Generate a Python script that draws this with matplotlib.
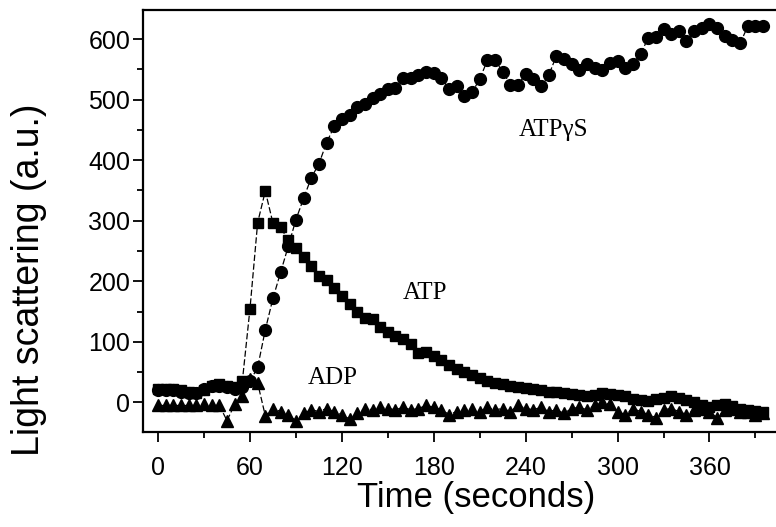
import matplotlib.pyplot as plt

# === Data (one sample every 5 s) ===
time_s = [0, 5, 10, 15, 20, 25, 30, 35, 40, 45, 50, 55, 60, 65, 70, 75, 80, 85, 90, 95,
          100, 105, 110, 115, 120, 125, 130, 135, 140, 145, 150, 155, 160, 165, 170, 175, 180, 185, 190, 195,
          200, 205, 210, 215, 220, 225, 230, 235, 240, 245, 250, 255, 260, 265, 270, 275, 280, 285, 290, 295,
          300, 305, 310, 315, 320, 325, 330, 335, 340, 345, 350, 355, 360, 365, 370, 375, 380, 385, 390, 395]

atp_gs = [20, 20, 20, 18, 15, 15, 22, 28, 28, 25, 22, 25, 35, 58, 120, 172, 215, 258, 302, 337,
          371, 394, 429, 456, 468, 475, 488, 493, 502, 509, 517, 520, 535, 536, 540, 546, 544, 536, 517, 522,
          506, 512, 534, 565, 565, 546, 525, 524, 543, 534, 522, 540, 572, 567, 559, 549, 559, 552, 549, 561,
          564, 552, 559, 575, 602, 603, 616, 608, 613, 597, 613, 618, 625, 618, 605, 598, 593, 621, 621, 621]

atp = [22, 22, 22, 20, 18, 15, 20, 28, 30, 28, 25, 35, 155, 297, 349, 296, 289, 268, 255, 241,
       225, 208, 203, 189, 175, 162, 150, 139, 137, 125, 117, 110, 104, 96, 81, 84, 76, 70, 62, 55,
       50, 45, 40, 35, 32, 30, 28, 26, 24, 22, 20, 18, 17, 16, 14, 12, 10, 12, 15, 14,
       12, 10, 6, 4, 2, 5, 8, 10, 8, 4, 0, -5, -8, -5, -3, -6, -10, -12, -14, -15]

adp = [-5, -5, -5, -5, -5, -5, -3, -5, -5, -30, -3, 10, 38, 32, -22, -10, -15, -20, -30, -18,
       -12, -15, -10, -15, -20, -27, -18, -10, -12, -8, -10, -12, -8, -12, -10, -5, -8, -12, -20, -15,
       -12, -10, -15, -8, -12, -10, -15, -5, -10, -12, -8, -15, -12, -18, -10, -8, -12, -5, 0, -3,
       -15, -20, -10, -15, -20, -25, -12, -10, -15, -20, -12, -10, -15, -25, -12, -10, -15, -15, -20, -18]

x_ticks = [0, 60, 120, 180, 240, 300, 360]
y_ticks = [0, 100, 200, 300, 400, 500, 600]

plt.rcParams['font.family'] = ['Liberation Sans', 'DejaVu Sans']

fig = plt.figure(figsize=(7.76, 5.27), dpi=100)
ax = fig.add_axes([0.184, 0.180, 0.825, 0.801])

line_kw = dict(color='black', lw=0.9, ls=(0, (5, 2)), markeredgecolor='black', markerfacecolor='black')
ax.plot(time_s, adp, marker='^', ms=8, **line_kw)
ax.plot(time_s, atp, marker='s', ms=7.5, **line_kw)
ax.plot(time_s, atp_gs, marker='o', ms=8.5, **line_kw)

# === Labels next to the curves ===
serif = ['Liberation Serif', 'DejaVu Serif']
ax.text(258, 450, 'ATPγS', family=serif, fontsize=18, ha='center', va='center')
ax.text(174, 180, 'ATP', family=serif, fontsize=18, ha='center', va='center')
ax.text(114, 41, 'ADP', family=serif, fontsize=18, ha='center', va='center')

# === Axes ===
ax.set_xlim(-10, 408)
ax.set_ylim(-49, 648)
ax.set_xticks(x_ticks)
ax.set_yticks(y_ticks)
ax.set_xticks([30, 90, 150, 210, 270, 330, 390], minor=True)
ax.set_yticks([50, 150, 250, 350, 450, 550], minor=True)
ax.tick_params(which='major', direction='out', length=7, width=1.3, labelsize=18, top=False, right=False)
ax.tick_params(which='minor', direction='out', length=4, width=1.3, top=False, right=False)
ax.tick_params(axis='x', which='major', pad=10)
ax.tick_params(axis='y', which='major', pad=2)
for s in ax.spines.values():
    s.set_linewidth(1.6)

ax.set_xlabel('Time (seconds)', fontsize=25)
ax.set_ylabel('Light scattering (a.u.)', fontsize=27)
ax.xaxis.set_label_coords(0.52, -0.156)
ax.yaxis.set_label_coords(-0.178, 0.36)
ax.xaxis.label.set_va('center')
ax.yaxis.label.set_va('center')

fig.savefig('out.png', dpi=100)
